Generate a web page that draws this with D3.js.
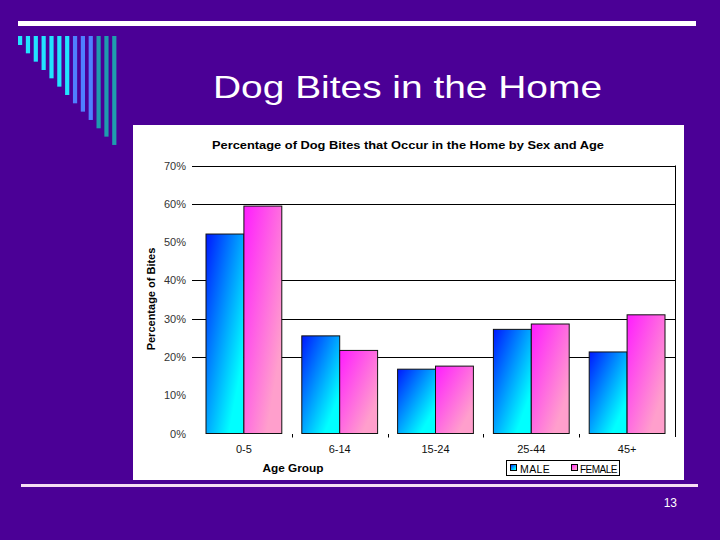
<!DOCTYPE html>
<html>
<head>
<meta charset="utf-8">
<script src="https://cdn.jsdelivr.net/npm/d3@7"></script>
<style>
  html, body { margin: 0; padding: 0; background: #4b0096; }
  svg { display: block; }
  text { font-family: "Liberation Sans", Arial, sans-serif; }
</style>
</head>
<body>
<svg id="chart" width="720" height="540"></svg>
<script>
// ---- data ----
const categories = ["0-5", "6-14", "15-24", "25-44", "45+"];
const maleValues = [0.521, 0.255, 0.168, 0.272, 0.213];
const femaleValues = [0.594, 0.217, 0.176, 0.286, 0.310];
const seriesNames = ["MALE", "FEMALE"];
const yTickValues = [0, 0.1, 0.2, 0.3, 0.4, 0.5, 0.6, 0.7];
const gridValues = [0.2, 0.3, 0.4, 0.6, 0.7];
const slideTitle = "Dog Bites in the Home";
const chartTitle = "Percentage of Dog Bites that Occur in the Home by Sex and Age";
const xAxisTitle = "Age Group";
const yAxisTitle = "Percentage of Bites";
const pageNumber = "13";

const svg = d3.select("#chart");
const W = 720, H = 540;

// background
svg.append("rect").attr("width", W).attr("height", H).attr("fill", "#4b0096");

// top white rule
svg.append("rect").attr("x", 18).attr("y", 21).attr("width", 678).attr("height", 5).attr("fill", "#ffffff");

// decorative stripes
const stripeColors = ["#22e4ff","#22e4ff","#22e4ff","#22e4ff","#22e4ff","#22e4ff","#22e4ff",
                      "#4f80ff","#4f80ff","#4f80ff","#1f9cae","#1f9cae","#1f9cae"];
svg.append("g").selectAll("rect").data(stripeColors).join("rect")
  .attr("x", (d, i) => 18 + i * 7.85)
  .attr("y", 36)
  .attr("width", 4.2)
  .attr("height", (d, i) => 9 + i * 8.33)
  .attr("fill", d => d);

// slide title
svg.append("text").attr("x", 213).attr("y", 98)
  .attr("font-size", 32).attr("fill", "#ffffff")
  .attr("textLength", 389).attr("lengthAdjust", "spacingAndGlyphs")
  .text(slideTitle);

// chart panel
svg.append("rect").attr("x", 133).attr("y", 125).attr("width", 551).attr("height", 355).attr("fill", "#ffffff");

// gradients
const defs = svg.append("defs");
function grad(id, c1, c2) {
  const g = defs.append("linearGradient").attr("id", id)
    .attr("x1", 0).attr("y1", 0).attr("x2", 1).attr("y2", 1);
  g.append("stop").attr("offset", "0%").attr("stop-color", c1);
  g.append("stop").attr("offset", "80%").attr("stop-color", c2);
}
grad("gMale", "#0018ff", "#00ffff");
grad("gFemale", "#ff1cff", "#ff9fcc");
const fills = ["url(#gMale)", "url(#gFemale)"];

// scales
const x = d3.scaleBand().domain(categories).range([196, 675]).padding(0);
const sub = d3.scaleBand().domain(seriesNames).range([10, x.bandwidth() - 10]).padding(0);
const y = d3.scaleLinear().domain([0, 0.7]).range([433.5, 165.5]);

// chart title
svg.append("text").attr("x", 212).attr("y", 149)
  .attr("font-size", 10).attr("font-weight", "bold").attr("fill", "#000")
  .attr("textLength", 392).attr("lengthAdjust", "spacingAndGlyphs")
  .text(chartTitle);

// gridlines
svg.append("g").selectAll("line").data(gridValues).join("line")
  .attr("x1", 192).attr("x2", 675)
  .attr("y1", d => Math.round(y(d)) + 0.5).attr("y2", d => Math.round(y(d)) + 0.5)
  .attr("stroke", "#000").attr("stroke-width", 1);

// right frame line
svg.append("line").attr("x1", 675.5).attr("x2", 675.5).attr("y1", y(0.7)).attr("y2", 437)
  .attr("stroke", "#000").attr("stroke-width", 1);

// y axis labels
const yAxis = d3.axisLeft(y).tickValues(yTickValues).tickFormat(d3.format(".0%")).tickSize(0).tickPadding(0);
const yg = svg.append("g").attr("transform", "translate(186,0)").call(yAxis);
yg.select(".domain").remove();
yg.selectAll("text").attr("font-size", 11).attr("fill", "#333")
  .attr("font-family", "'Liberation Sans', Arial, sans-serif");

// x axis: labels and between-category ticks
const xAxis = d3.axisBottom(x).tickSize(0).tickPadding(0);
const xg = svg.append("g").attr("transform", "translate(0,433.5)").call(xAxis);
xg.select(".domain").remove();
xg.selectAll("text").attr("font-size", 11).attr("fill", "#111").attr("dy", 0).attr("y", 19)
  .attr("font-family", "'Liberation Sans', Arial, sans-serif");
svg.append("g").selectAll("line").data(categories.slice(1)).join("line")
  .attr("x1", d => Math.round(x(d)) + 0.5).attr("x2", d => Math.round(x(d)) + 0.5)
  .attr("y1", 434).attr("y2", 437.5).attr("stroke", "#000");

// bars
const groups = svg.append("g").selectAll("g").data(categories).join("g")
  .attr("transform", d => `translate(${x(d)},0)`);
groups.selectAll("rect")
  .data((d, i) => [maleValues[i], femaleValues[i]].map((v, j) => ({ v, s: seriesNames[j], j })))
  .join("rect")
  .attr("x", d => sub(d.s))
  .attr("y", d => y(d.v))
  .attr("width", sub.bandwidth())
  .attr("height", d => y(0) - y(d.v))
  .attr("fill", d => fills[d.j])
  .attr("stroke", "#111")
  .attr("stroke-width", 1);

// axis titles
svg.append("text").attr("x", 293).attr("y", 471.5).attr("text-anchor", "middle")
  .attr("font-size", 11).attr("font-weight", "bold")
  .attr("textLength", 61).attr("lengthAdjust", "spacingAndGlyphs")
  .text(xAxisTitle);
svg.append("text").attr("transform", "translate(155,299) rotate(-90)").attr("text-anchor", "middle")
  .attr("font-size", 11).attr("font-weight", "bold")
  .text(yAxisTitle);

// legend
const lg = svg.append("g");
lg.append("rect").attr("x", 506.5).attr("y", 460.5).attr("width", 113).attr("height", 15)
  .attr("fill", "#fff").attr("stroke", "#000");
const legendItems = [
  { name: seriesNames[0], sx: 510, tx: 520, fs: 10.5, ls: 0.4, fill: fills[0] },
  { name: seriesNames[1], sx: 571, tx: 580, fs: 10, ls: -0.5, fill: fills[1] }
];
legendItems.forEach(it => {
  lg.append("rect").attr("x", it.sx + 0.5).attr("y", 464.5).attr("width", 6).attr("height", 6)
    .attr("fill", it.fill).attr("stroke", "#000").attr("stroke-width", 1);
  lg.append("text").attr("x", it.tx).attr("y", 472.5).attr("font-size", it.fs)
    .attr("letter-spacing", it.ls)
    .text(it.name);
});

// bottom rule and page number
svg.append("rect").attr("x", 21).attr("y", 484).attr("width", 677).attr("height", 3).attr("fill", "#f6def4");
svg.append("text").attr("x", 677).attr("y", 507).attr("text-anchor", "end")
  .attr("font-size", 12).attr("fill", "#ffffff").text(pageNumber);
</script>
</body>
</html>
